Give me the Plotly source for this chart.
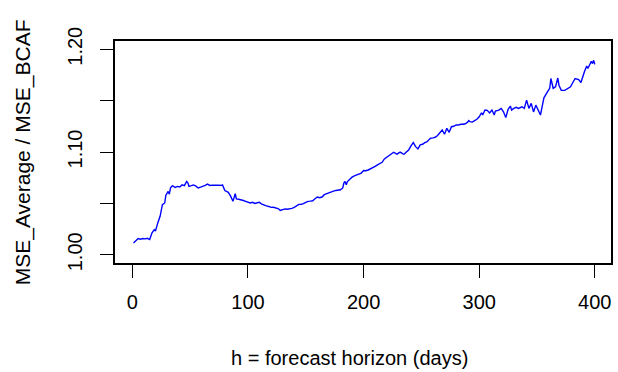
import plotly.graph_objects as go

# Forecast horizon (days) and MSE ratio of simple average vs. BCAF
horizon = [1, 3, 5, 7, 9, 11, 13, 15, 17, 19, 20, 22, 24, 26, 28, 29, 30, 31, 32, 33,
           34, 35, 37, 39, 41, 43, 45, 47, 48, 49, 51, 53, 55, 57, 59, 61, 63, 65, 67, 69,
           71, 73, 75, 77, 78, 80, 81, 83, 85, 87, 89, 90, 92, 94, 96, 98, 100, 102, 104, 106,
           108, 110, 112, 114, 116, 118, 120, 122, 124, 126, 128, 130, 132, 134, 136, 138, 140, 142, 144, 146,
           148, 150, 152, 154, 156, 158, 160, 162, 164, 166, 168, 170, 172, 174, 176, 178, 180, 182, 183, 184,
           185, 186, 188, 190, 192, 194, 196, 198, 200, 202, 204, 206, 208, 210, 212, 214, 216, 218, 220, 222,
           224, 226, 228, 229, 231, 232, 234, 235, 237, 239, 241, 243, 245, 247, 249, 251, 253, 255, 257, 258,
           260, 262, 264, 265, 266, 268, 270, 272, 274, 276, 278, 280, 282, 284, 286, 288, 290, 291, 292, 294,
           296, 298, 300, 302, 303, 305, 307, 309, 311, 313, 314, 317, 319, 321, 323, 325, 327, 328, 330, 332,
           334, 336, 337, 339, 341, 343, 345, 347, 349, 351, 353, 355, 356, 359, 361, 362, 364, 366, 368, 369,
           371, 374, 376, 379, 381, 383, 386, 388, 391, 393, 394, 397, 398, 399, 400]

mse_ratio = [1.0115, 1.0135, 1.0158, 1.0152, 1.0158, 1.0155, 1.0160, 1.0148, 1.0213, 1.0245,
             1.0230, 1.0310, 1.0374, 1.0487, 1.0504, 1.0580, 1.0600, 1.0616, 1.0590, 1.0650,
             1.0665, 1.0670, 1.0655, 1.0665, 1.0660, 1.0680, 1.0672, 1.0713, 1.0700, 1.0665,
             1.0672, 1.0680, 1.0668, 1.0650, 1.0658, 1.0665, 1.0675, 1.0688, 1.0675, 1.0678,
             1.0675, 1.0678, 1.0676, 1.0675, 1.0680, 1.0625, 1.0616, 1.0607, 1.0570, 1.0520,
             1.0594, 1.0543, 1.0540, 1.0536, 1.0528, 1.0520, 1.0515, 1.0504, 1.0510, 1.0500,
             1.0506, 1.0510, 1.0492, 1.0480, 1.0476, 1.0470, 1.0461, 1.0462, 1.0455, 1.0450,
             1.0432, 1.0442, 1.0446, 1.0443, 1.0446, 1.0452, 1.0461, 1.0480, 1.0490, 1.0492,
             1.0497, 1.0510, 1.0520, 1.0522, 1.0526, 1.0545, 1.0562, 1.0555, 1.0562, 1.0585,
             1.0594, 1.0605, 1.0616, 1.0620, 1.0626, 1.0630, 1.0633, 1.0650, 1.0700, 1.0713,
             1.0680, 1.0712, 1.0739, 1.0755, 1.0768, 1.0775, 1.0788, 1.0795, 1.0820, 1.0818,
             1.0825, 1.0835, 1.0843, 1.0860, 1.0875, 1.0890, 1.0900, 1.0933, 1.0948, 1.0965,
             1.0980, 1.0998, 1.0985, 1.0979, 1.0995, 1.0998, 1.0982, 1.0979, 1.1000, 1.1020,
             1.1060, 1.1091, 1.1052, 1.1030, 1.1069, 1.1075, 1.1091, 1.1100, 1.1125, 1.1134,
             1.1138, 1.1143, 1.1160, 1.1173, 1.1192, 1.1214, 1.1173, 1.1230, 1.1192, 1.1246,
             1.1250, 1.1263, 1.1262, 1.1270, 1.1270, 1.1275, 1.1290, 1.1305, 1.1295, 1.1292,
             1.1305, 1.1318, 1.1343, 1.1382, 1.1360, 1.1408, 1.1405, 1.1380, 1.1408, 1.1360,
             1.1398, 1.1408, 1.1424, 1.1391, 1.1335, 1.1415, 1.1447, 1.1408, 1.1424, 1.1434,
             1.1424, 1.1435, 1.1440, 1.1424, 1.1505, 1.1424, 1.1473, 1.1390, 1.1456, 1.1408,
             1.1360, 1.1473, 1.1527, 1.1585, 1.1620, 1.1715, 1.1620, 1.1634, 1.1720, 1.1650,
             1.1600, 1.1600, 1.1615, 1.1634, 1.1676, 1.1715, 1.1705, 1.1676, 1.1780, 1.1837,
             1.1812, 1.1883, 1.1860, 1.1892, 1.1853]

x_ticks = [0, 100, 200, 300, 400]
y_ticks = [1.00, 1.05, 1.10, 1.15, 1.20]
y_tick_text = ["1.00", "", "1.10", "", "1.20"]

FONT = "Liberation Sans, Arial, sans-serif"

fig = go.Figure()
fig.add_trace(go.Scatter(
    x=horizon, y=mse_ratio, mode="lines",
    line=dict(color="#0000ff", width=1.4),
    hoverinfo="skip", showlegend=False,
))

axis_common = dict(
    showline=True, linecolor="black", linewidth=1.5, mirror=True,
    ticks="outside", ticklen=13, tickwidth=1.3, tickcolor="black",
    showgrid=False, zeroline=False,
    tickfont=dict(family=FONT, size=20, color="black"),
)

fig.update_xaxes(range=[-15, 414], tickvals=x_ticks, ticktext=[str(v) for v in x_ticks],
                 ticklabelstandoff=7, **axis_common)
fig.update_yaxes(range=[0.992, 1.208], tickvals=y_ticks, ticktext=y_tick_text,
                 tickangle=-90, ticklabelstandoff=10, **axis_common)

fig.add_annotation(text="h = forecast horizon (days)", xref="paper", yref="paper",
                   x=0.472, y=-0.428, xanchor="center", yanchor="middle", showarrow=False,
                   font=dict(family=FONT, size=20, color="black"))
fig.add_annotation(text="MSE_Average / MSE_BCAF", xref="paper", yref="paper",
                   x=-0.185, y=0.5, xanchor="center", yanchor="middle", showarrow=False,
                   textangle=-90, font=dict(family=FONT, size=21, color="black"))

fig.update_layout(
    width=618, height=372,
    margin=dict(l=115, r=5, t=41, b=109),
    paper_bgcolor="white", plot_bgcolor="white",
)

fig.write_html("out.html")
